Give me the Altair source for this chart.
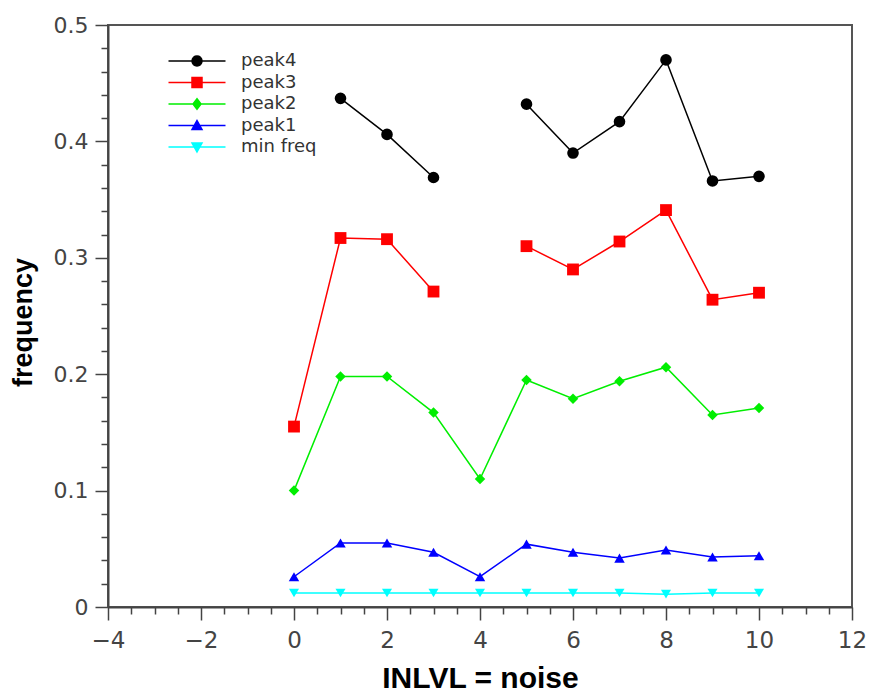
import altair as alt
import pandas as pd

# ---- data ----
noise = [0, 1, 2, 3, 4, 5, 6, 7, 8, 9, 10]
peak4 = [None, 0.437, 0.406, 0.369, None, 0.432, 0.390, 0.417, 0.470, 0.366, 0.370]
peak3 = [0.155, 0.317, 0.316, 0.271, None, 0.310, 0.290, 0.314, 0.341, 0.264, 0.270]
peak2 = [0.100, 0.198, 0.198, 0.167, 0.110, 0.195, 0.179, 0.194, 0.206, 0.165, 0.171]
peak1 = [0.026, 0.055, 0.055, 0.047, 0.026, 0.054, 0.047, 0.042, 0.049, 0.043, 0.044]
min_freq = [0.012, 0.012, 0.012, 0.012, 0.012, 0.012, 0.012, 0.012, 0.011, 0.012, 0.012]

series_names = ["peak4", "peak3", "peak2", "peak1", "min freq"]
series_values = [peak4, peak3, peak2, peak1, min_freq]
series_colors = ["#000000", "#ff0000", "#00ee00", "#0000ff", "#00ffff"]
series_shapes = ["circle", "square", "diamond", "triangle-up", "triangle-down"]
series_sizes = [135, 140, 110, 110, 100]

# legend glyphs: line segment + marker (custom symbol paths)
legend_paths = [
    "M-5.7,0H5.7M-1,0C-1,-1.33,1,-1.33,1,0C1,1.33,-1,1.33,-1,0Z",
    "M-5.7,0H5.7M-1,-1H1V1H-1Z",
    "M-5.7,0H5.7M0,-1.05L0.8,0L0,1.05L-0.8,0Z",
    "M-5.7,0H5.7M0,-1L1,0.8H-1Z",
    "M-5.7,0H5.7M0,1L1,-0.8H-1Z",
]

x_ticks = [v / 2 for v in range(-8, 25)]
y_ticks = [round(v * 0.02, 2) for v in range(0, 26)]

rows = []
for name, vals in zip(series_names, series_values):
    seg = 0
    for xv, v in zip(noise, vals):
        if v is None:
            seg += 1
            continue
        rows.append({"noise": xv, "frequency": v, "series": name, "seg": f"{name}-{seg}"})
df = pd.DataFrame(rows)

x_enc = alt.X(
    "noise:Q",
    scale=alt.Scale(domain=[-4, 12], nice=False, zero=False),
    axis=alt.Axis(
        title="INLVL = noise",
        values=x_ticks,
        labelExpr="datum.value % 2 === 0 ? format(datum.value, 'd') : ''",
        tickSize={"condition": {"test": "datum.value % 2 === 0", "value": 13}, "value": 7},
        labelOverlap=False,
        labelFlush=False,
        labelPadding=9,
        labelFont="DejaVu Sans",
        labelFontSize=23,
        labelColor="#444444",
        titleFont="Liberation Sans",
        titleFontSize=30,
        titleFontWeight="bold",
        titleColor="#000000",
        titleY=80,
        titleBaseline="alphabetic",
        grid=False,
    ),
)
y_enc = alt.Y(
    "frequency:Q",
    scale=alt.Scale(domain=[0, 0.5], nice=False, zero=True),
    axis=alt.Axis(
        title="frequency",
        values=y_ticks,
        labelExpr="abs(datum.value*10 - round(datum.value*10)) < 0.001 ? (datum.value == 0 ? '0' : format(datum.value, '.1f')) : ''",
        tickSize={"condition": {"test": "abs(datum.value*10 - round(datum.value*10)) < 0.001", "value": 13}, "value": 7},
        labelOverlap=False,
        labelFlush=False,
        labelPadding=7,
        labelFont="DejaVu Sans",
        labelFontSize=22,
        labelColor="#444444",
        titleFont="Liberation Sans",
        titleFontSize=27,
        titleFontWeight="bold",
        titleColor="#000000",
        titleX=-77,
        titleY=297,
        titleAngle=270,
        titleAlign="center",
        titleBaseline="alphabetic",
        grid=False,
    ),
)

color_scale = alt.Scale(domain=series_names, range=series_colors)

leg = alt.Legend(
    title=None,
    orient="none",
    legendX=80,
    legendY=27,
    padding=0,
    labelFont="DejaVu Sans",
    labelFontSize=18,
    labelColor="#333333",
    labelOffset=35,
    rowPadding=3.5,
    symbolSize=100,
    symbolStrokeWidth=1.5,
)

base = alt.Chart(df)

lines = base.mark_line(strokeWidth=1.5).encode(
    x=x_enc,
    y=y_enc,
    color=alt.Color("series:N", scale=color_scale, legend=leg),
    detail="seg:N",
)

point_layers = []
for name, shp, sz in zip(series_names, series_shapes, series_sizes):
    point_layers.append(
        base.transform_filter(alt.datum.series == name)
        .mark_point(filled=True, shape=shp, size=sz, opacity=1)
        .encode(
            x=x_enc,
            y=y_enc,
            color=alt.Color("series:N", scale=color_scale, legend=leg),
        )
    )

# legend-only layer: draws no marks, supplies line + marker glyphs to the legend
legend_layer = base.transform_filter("false").mark_point(filled=True).encode(
    x=x_enc,
    y=y_enc,
    color=alt.Color("series:N", scale=color_scale, legend=leg),
    stroke=alt.Stroke("series:N", scale=alt.Scale(domain=series_names, range=series_colors), legend=leg),
    shape=alt.Shape("series:N", scale=alt.Scale(domain=series_names, range=legend_paths), legend=leg),
)

chart = alt.layer(lines, *point_layers, legend_layer).properties(
    width=744,
    height=582,
    autosize=alt.AutoSizeParams(type="none"),
    padding={"left": 100, "top": 17, "right": 14, "bottom": 90},
).configure_view(
    stroke="#555555",
    strokeWidth=2,
).configure_axis(
    domainColor="#444444",
    domainWidth=2,
    tickColor="#444444",
    tickWidth=1.5,
)

chart.save("out.html", embed_options={"renderer": "svg", "actions": False})
